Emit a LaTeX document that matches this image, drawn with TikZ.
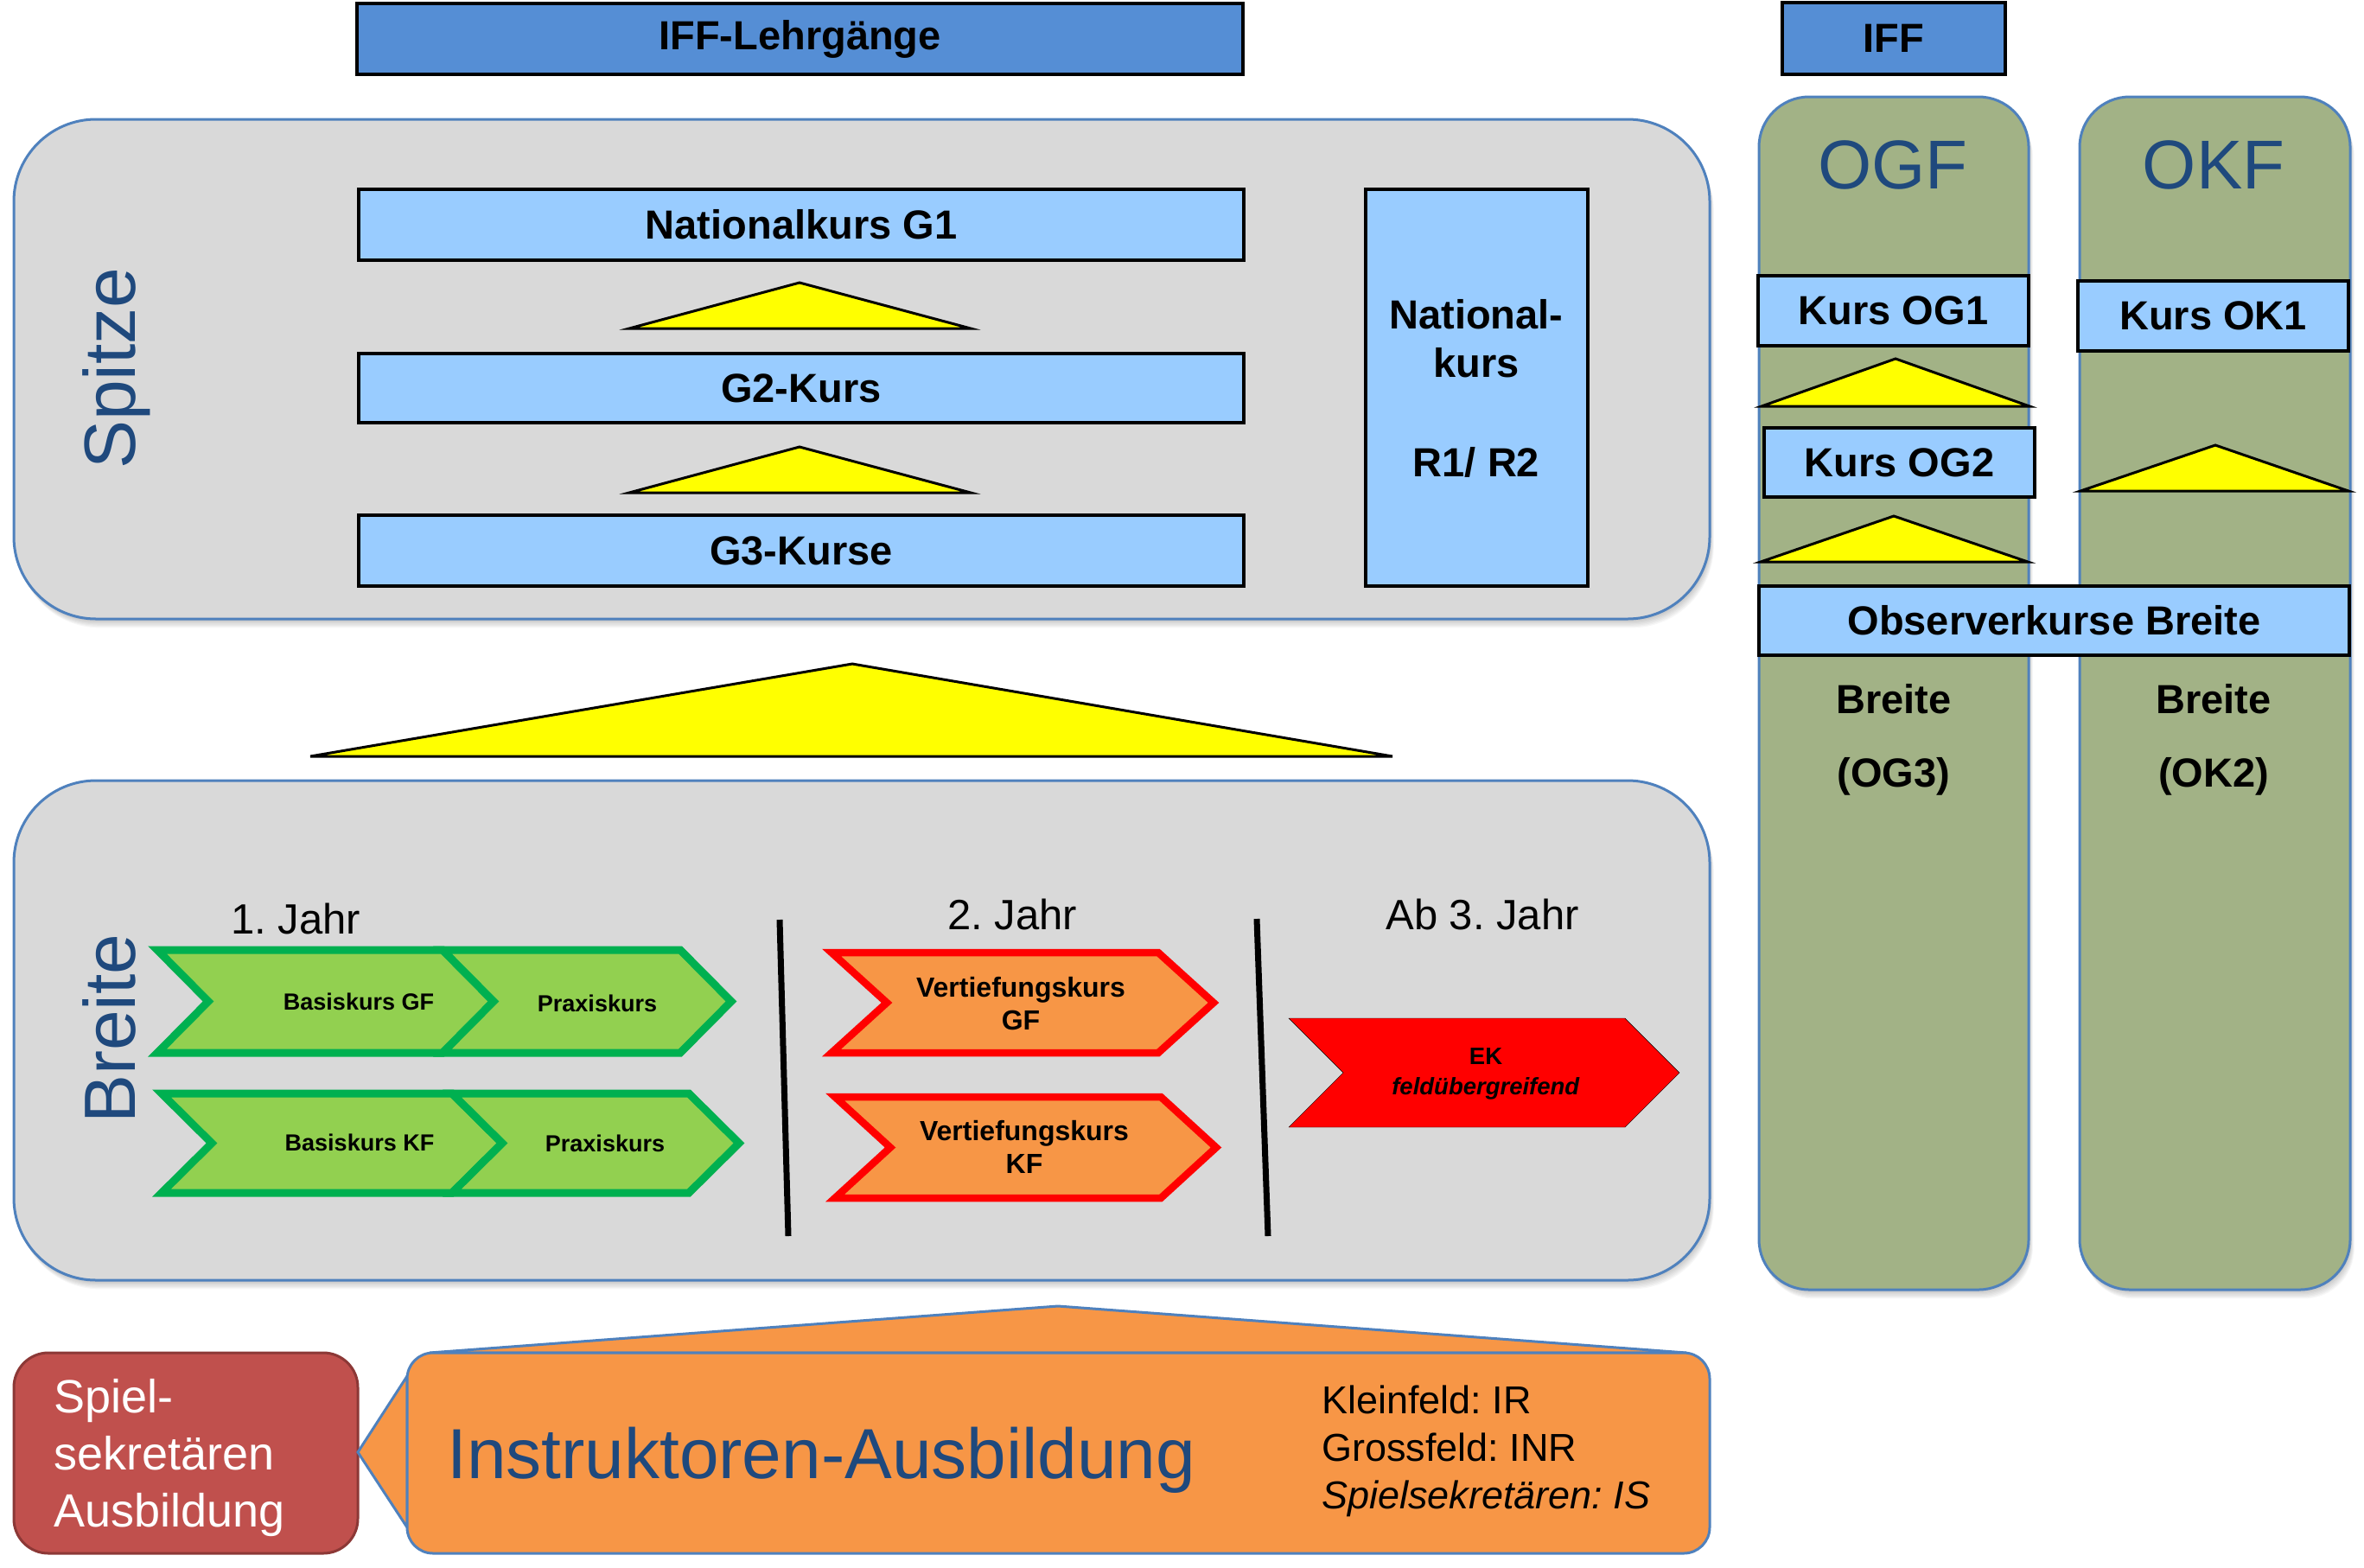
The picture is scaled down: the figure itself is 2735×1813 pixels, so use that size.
\documentclass[tikz,border=0pt]{standalone}
\usepackage{fontspec}
\setmainfont{Liberation Sans}
\frenchspacing
\definecolor{hdrblue}{HTML}{558ED5}
\definecolor{lblue}{HTML}{99CCFF}
\definecolor{panelgray}{HTML}{D9D9D9}
\definecolor{pborder}{HTML}{4F81BD}
\definecolor{darkblue}{HTML}{1F497D}
\definecolor{olivecol}{HTML}{A2B286}
\definecolor{triyellow}{HTML}{FFFF00}
\definecolor{gfill}{HTML}{92D050}
\definecolor{gline}{HTML}{00B050}
\definecolor{ofill}{HTML}{F79646}
\definecolor{rline}{HTML}{FF0000}
\definecolor{sred}{HTML}{C0504D}
\definecolor{sredb}{HTML}{8C3836}
\newcommand{\fsz}[1]{\fontsize{#1}{#1}\selectfont}
\newcommand{\boxat}[7]{\node[#2, minimum width={(#5-#3)*1pt}, minimum height={(#6-#4)*1pt}] (#1) at ({(#3+#5)/2},{(#4+#6)/2}) {#7};}
\newcommand{\softshadow}[5]{\foreach \k in {1,...,8}{\fill[black, opacity=0.03, rounded corners=#5pt] ({#1+0.6*\k},{#2+1.3*\k}) rectangle ({#3+0.6*\k},{#4+1.3*\k});}}
\newcommand{\chev}[6]{\draw[#6] (#1,#2) -- ++(#3,0) -- ++(#5,{#4/2}) -- ++(-#5,{#4/2}) -- ++(-#3,0) -- ++(#5,{-#4/2}) -- cycle;}
\tikzset{
  hdr/.style={draw=black, line width=4pt, fill=hdrblue, font=\bfseries\fsz{47}, inner sep=0pt},
  lbox/.style={draw=black, line width=3.5pt, fill=lblue, font=\bfseries\fsz{47}, inner sep=0pt},
  panel/.style={draw=pborder, line width=3pt, fill=panelgray, rounded corners=95pt, inner sep=0pt},
  colbox/.style={draw=pborder, line width=3pt, fill=olivecol, rounded corners=58pt, inner sep=0pt},
  tri/.style={draw=black, line width=3pt, fill=triyellow, line join=miter},
  gchev/.style={draw=gline, fill=gfill, line width=9pt, line join=miter},
  ochev/.style={draw=rline, fill=ofill, line width=8.5pt, line join=miter},
  rchev/.style={fill=rline},
  ctext/.style={font=\bfseries\fsz{27}, inner sep=0pt},
  vtext/.style={font=\bfseries\fontsize{32}{38}\selectfont, align=center, inner sep=0pt},
  yearlbl/.style={font=\fsz{49}, anchor=base, inner sep=0pt},
  sidelbl/.style={rotate=90, text=darkblue, font=\fsz{84}, inner sep=0pt},
  boldlbl/.style={font=\bfseries\fsz{47}, anchor=base, inner sep=0pt},
  vsep/.style={line width=7pt, black},
  spielbox/.style={draw=sredb, line width=3pt, fill=sred, rounded corners=40pt, inner sep=0pt},
  iborder/.style={draw=pborder, line width=3pt, fill=ofill, line join=miter},
  instbox/.style={draw=pborder, line width=3pt, fill=ofill, rounded corners=30pt, inner sep=0pt},
  whitelbl/.style={text=white, font=\fsz{54}, anchor=base west, inner sep=0pt},
  smalllbl/.style={font=\fsz{45}, anchor=base west, inner sep=0pt}
}
\begin{document}
\begin{tikzpicture}[x=1pt,y=-1pt]
\useasboundingbox (0,0) rectangle (2735,1813);
% headers
\boxat{lehr}{hdr}{413}{4}{1438}{86}{IFF-Lehrgänge}
\boxat{iff}{hdr}{2062}{3}{2320}{86}{IFF}
% Spitze panel
\softshadow{16}{138}{1978}{716}{95}
\boxat{spitzep}{panel}{16}{138}{1978}{716}{}
\node[sidelbl] (spitzel) at (135,426) {Spitze};
\boxat{ng1}{lbox}{415}{219}{1439}{301}{Nationalkurs G1}
\draw[tri] (728,380) -- (925,327) -- (1123,380) -- cycle;
\boxat{g2}{lbox}{415}{409}{1439}{489}{G2-Kurs}
\draw[tri] (728,570) -- (925,517) -- (1123,570) -- cycle;
\boxat{g3}{lbox}{415}{596}{1439}{678}{G3-Kurse}
\boxat{nr}{lbox}{1580}{219}{1837}{678}{}
\node[boldlbl] (nr1) at (1708,380) {National-};
\node[boldlbl] (nr2) at (1708,436) {kurs};
\node[boldlbl] (nr3) at (1708,551) {R1/ R2};
% big triangle
\draw[tri] (359,875) -- (986,768) -- (1611,875) -- cycle;
% Breite panel
\softshadow{16}{903}{1978}{1481}{95}
\boxat{breitep}{panel}{16}{903}{1978}{1481}{}
\node[sidelbl] (breitel) at (126,1190) {Breite};
\node[yearlbl] (j1) at (342,1080) {1. Jahr};
\node[yearlbl] (j2) at (1171,1075) {2. Jahr};
\node[yearlbl] (j3) at (1715,1075) {Ab 3. Jahr};
\coordinate (s1a) at (902,1064);
\coordinate (s1b) at (912,1430);
\coordinate (s2a) at (1454,1063);
\coordinate (s2b) at (1467,1430);
\draw[vsep] (s1a) -- (s1b);
\draw[vsep] (s2a) -- (s2b);
% green chevrons
\chev{182}{1099}{330}{119}{59}{gchev}
\chev{512}{1099}{275}{119}{59}{gchev}
\chev{187}{1265}{336}{115}{58}{gchev}
\chev{523}{1265}{274}{115}{58}{gchev}
\node[ctext] (bgf) at (415,1159) {Basiskurs GF};
\node[ctext] (pgf) at (691,1161) {Praxiskurs};
\node[ctext] (bkf) at (416,1322) {Basiskurs KF};
\node[ctext] (pkf) at (700,1323) {Praxiskurs};
% orange chevrons
\chev{962}{1102}{378}{116}{64}{ochev}
\chev{966}{1269}{377}{117}{64}{ochev}
\node[vtext] (vgf) at (1181,1161) {Vertiefungskurs\\GF};
\node[vtext] (vkf) at (1185,1327) {Vertiefungskurs\\KF};
% EK
\chev{1491}{1178}{389}{126}{63}{rchev}
\node[font=\bfseries\fontsize{27.5}{35}\selectfont, align=center, inner sep=0pt] (ek) at (1719,1242) {EK\\\textit{feldübergreifend}};
% right columns
\softshadow{2035}{112}{2347}{1492}{58}
\softshadow{2406}{112}{2719}{1492}{58}
\boxat{ogfc}{colbox}{2035}{112}{2347}{1492}{}
\boxat{okfc}{colbox}{2406}{112}{2719}{1492}{}
\node[text=darkblue, font=\fsz{80}, inner sep=0pt] (ogf) at (2190,191) {OGF};
\node[text=darkblue, font=\fsz{80}, inner sep=0pt] (okf) at (2561,191) {OKF};
\boxat{og1}{lbox}{2034}{319}{2347}{400}{Kurs OG1}
\draw[tri] (2038,470) -- (2193,415) -- (2348,470) -- cycle;
\boxat{og2}{lbox}{2041}{495}{2354}{575}{Kurs OG2}
\draw[tri] (2037,650) -- (2191,597) -- (2346,650) -- cycle;
\boxat{ok1}{lbox}{2404}{325}{2717}{406}{Kurs OK1}
\draw[tri] (2407,568) -- (2563,515) -- (2717,568) -- cycle;
\boxat{obs}{lbox}{2035}{678}{2718}{758}{Observerkurse Breite}
\node[boldlbl] (br1) at (2191,825) {Breite};
\node[boldlbl] (og3) at (2191,910) {(OG3)};
\node[boldlbl] (br2) at (2561,825) {Breite};
\node[boldlbl] (ok2) at (2561,910) {(OK2)};
% bottom
\boxat{spiel}{spielbox}{16}{1565}{414}{1797}{}
\node[whitelbl] (sp1) at (62,1634) {Spiel-};
\node[whitelbl] (sp2) at (62,1700) {sekretären};
\node[whitelbl] (sp3) at (62,1766) {Ausbildung};
\draw[iborder] (414,1680) -- (471,1592) -- (471,1767) -- cycle;
\draw[iborder] (497,1565) -- (1224,1511) -- (1951,1565) -- cycle;
\boxat{inst}{instbox}{471}{1565}{1978}{1797}{}
\node[text=darkblue, font=\fsz{82}, anchor=base west, inner sep=0pt] (instl) at (517,1710) {Instruktoren-Ausbildung};
\node[smalllbl] (kl) at (1529,1635) {Kleinfeld: IR};
\node[smalllbl] (gr) at (1529,1690) {Grossfeld: INR};
\node[smalllbl, font=\itshape\fsz{45}] (ss) at (1529,1745) {Spielsekretären: IS};
\end{tikzpicture}
\end{document}
